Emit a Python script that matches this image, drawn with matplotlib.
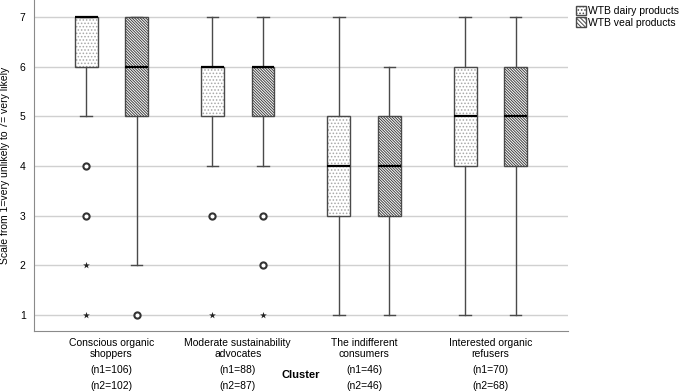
import numpy as np
import matplotlib.pyplot as plt
from matplotlib.patches import Patch
from matplotlib import transforms

plt.rcParams['font.family'] = ['Liberation Sans', 'DejaVu Sans']
plt.rcParams['hatch.linewidth'] = 0.7

# cluster labels and sample sizes
clusters = ["Conscious organic\nshoppers", "Moderate sustainability\nadvocates",
            "The indifferent\nconsumers", "Interested organic\nrefusers"]
n1 = [106, 88, 46, 70]
n2 = [102, 87, 46, 68]

# box statistics (dairy, veal)
dairy_q1 = [6, 5, 3, 4]
dairy_med = [7, 6, 4, 5]
dairy_q3 = [7, 6, 5, 6]
dairy_lo = [5, 4, 1, 1]
dairy_hi = [7, 7, 7, 7]
dairy_circles = [[4, 3], [3], [], []]
dairy_stars = [[2, 1], [1], [], []]

veal_q1 = [5, 5, 3, 4]
veal_med = [6, 6, 4, 5]
veal_q3 = [7, 6, 5, 6]
veal_lo = [2, 4, 1, 1]
veal_hi = [7, 7, 6, 7]
veal_circles = [[1], [3, 2], [], []]
veal_stars = [[], [1], [], []]

dairy_hatch = '.....'
veal_hatch = '\\' * 12
offset = 0.2
width = 0.18

fig = plt.figure(figsize=(6.85, 3.91), dpi=100)
ax = fig.add_axes([0.0496, 0.153, 0.829 - 0.0496, 0.847])

def make_stats(q1, med, q3, lo, hi):
    return [dict(q1=a, med=b, q3=c, whislo=d, whishi=e, fliers=[])
            for a, b, c, d, e in zip(q1, med, q3, lo, hi)]

x = np.arange(len(clusters))
for stats, pos, hatch, hcol in [
        (make_stats(dairy_q1, dairy_med, dairy_q3, dairy_lo, dairy_hi), x - offset, dairy_hatch, '#a8a8a8'),
        (make_stats(veal_q1, veal_med, veal_q3, veal_lo, veal_hi), x + offset, veal_hatch, '#404040')]:
    res = ax.bxp(stats, positions=pos, widths=width, capwidths=0.09, patch_artist=True,
                 showfliers=False, manage_ticks=False,
                 boxprops=dict(facecolor='white', edgecolor='#4a4a4a', linewidth=1.0),
                 medianprops=dict(color='black', linewidth=1.6),
                 whiskerprops=dict(color='#4a4a4a', linewidth=1.0),
                 capprops=dict(color='#4a4a4a', linewidth=1.0))
    for b in res['boxes']:
        b.set_hatch(hatch)
        b._hatch_color = plt.matplotlib.colors.to_rgba(hcol)
        b.set_zorder(3)
    for k in ('medians', 'whiskers', 'caps'):
        for l in res[k]:
            l.set_zorder(4)

for i in range(len(clusters)):
    for xs, circ, star in [(x[i] - offset, dairy_circles[i], dairy_stars[i]),
                           (x[i] + offset, veal_circles[i], veal_stars[i])]:
        if circ:
            ax.scatter([xs] * len(circ), circ, s=20, facecolors='white',
                       edgecolors='#333333', linewidths=1.5, zorder=5)
        if star:
            ax.scatter([xs] * len(star), star, s=26, marker='*',
                       color='#222222', linewidths=0, zorder=5)

ax.set_xlim(-0.613, 3.613)
ax.set_ylim(0.677, 7.34)
ax.set_yticks(range(1, 8))
ax.yaxis.grid(True, color='#d0d0d0', linewidth=1.0)
ax.set_axisbelow(True)
ax.tick_params(axis='y', length=0, labelsize=7.5, pad=6)
ax.set_xticks(x)
ax.set_xticklabels(clusters, fontsize=7.5, linespacing=1.1)
ax.tick_params(axis='x', length=0, pad=5)
for s in ('top', 'right'):
    ax.spines[s].set_visible(False)
for s in ('left', 'bottom'):
    ax.spines[s].set_color('#8a8a8a')
ax.set_ylabel("Scale from 1=very unlikely to 7= very likely", fontsize=7.5, labelpad=7)

# sample sizes under each cluster label
trans = transforms.blended_transform_factory(ax.transData, fig.transFigure)
for xi, a, b in zip(x, n1, n2):
    ax.text(xi, 1 - 370 / 391, f"(n1={a})", transform=trans, fontsize=7.5,
            ha='center', va='center')
    ax.text(xi, 1 - 386 / 391, f"(n2={b})", transform=trans, fontsize=7.5,
            ha='center', va='center')

fig.text(301 / 685, 1 - 375 / 391, "Cluster", fontsize=8, fontweight='bold',
         ha='center', va='center')

handles = [Patch(facecolor='white', edgecolor='#4a4a4a', hatch=dairy_hatch, label='WTB dairy products'),
           Patch(facecolor='white', edgecolor='#4a4a4a', hatch='\\' * 8, label='WTB veal products')]
fig.legend(handles=handles, loc='upper left', bbox_to_anchor=(576 / 685, 1 - 6 / 391), frameon=False,
           fontsize=7.5, handlelength=1.0, handleheight=1.0, handletextpad=0.2,
           labelspacing=0.1, borderaxespad=0, borderpad=0)

fig.savefig('out.png', dpi=100)
